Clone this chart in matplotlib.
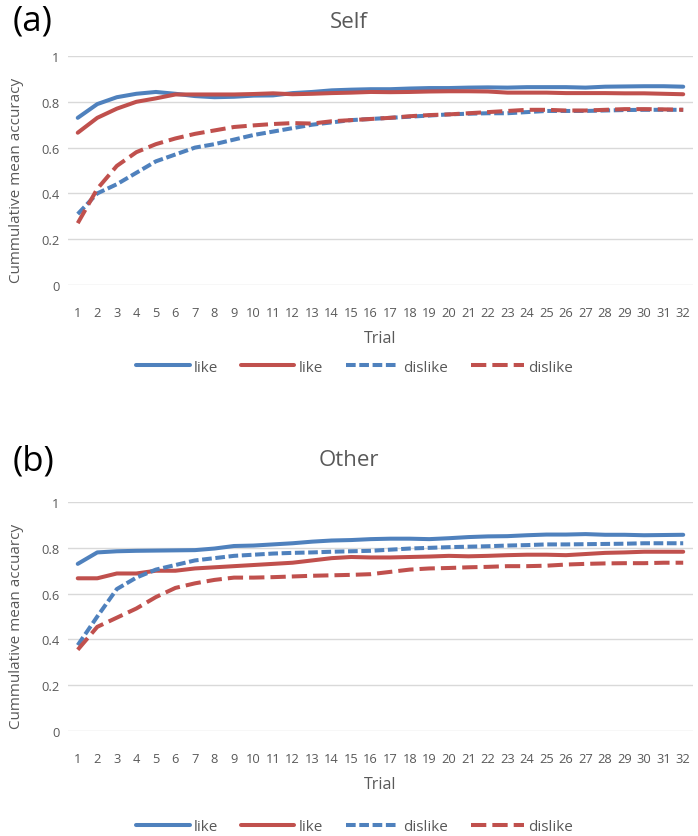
import matplotlib.pyplot as plt
import numpy as np

trials = list(range(1, 33))

# panel (a) Self
self_like_blue = [0.73, 0.79, 0.82, 0.835, 0.843, 0.835, 0.825, 0.82, 0.822, 0.827, 0.828, 0.838,
                  0.843, 0.85, 0.853, 0.855, 0.855, 0.858, 0.86, 0.86, 0.862, 0.863, 0.862, 0.864,
                  0.864, 0.864, 0.862, 0.866, 0.867, 0.868, 0.868, 0.866]
self_like_red = [0.665, 0.73, 0.77, 0.80, 0.815, 0.832, 0.832, 0.832, 0.832, 0.834, 0.837, 0.833,
                 0.835, 0.838, 0.84, 0.843, 0.842, 0.843, 0.845, 0.846, 0.846, 0.845, 0.84, 0.84,
                 0.84, 0.838, 0.838, 0.838, 0.837, 0.837, 0.835, 0.833]
self_dislike_blue = [0.31, 0.40, 0.44, 0.49, 0.54, 0.57, 0.60, 0.615, 0.635, 0.655, 0.67, 0.685,
                     0.70, 0.71, 0.72, 0.725, 0.73, 0.735, 0.74, 0.745, 0.748, 0.75, 0.75, 0.755,
                     0.76, 0.76, 0.76, 0.762, 0.764, 0.765, 0.765, 0.765]
self_dislike_red = [0.27, 0.42, 0.52, 0.58, 0.615, 0.64, 0.66, 0.675, 0.69, 0.697, 0.703, 0.707,
                    0.705, 0.715, 0.72, 0.725, 0.73, 0.737, 0.742, 0.745, 0.75, 0.755, 0.76, 0.765,
                    0.765, 0.762, 0.762, 0.765, 0.768, 0.768, 0.767, 0.765]

# panel (b) Other
other_like_blue = [0.73, 0.78, 0.785, 0.787, 0.788, 0.789, 0.79, 0.797, 0.808, 0.81, 0.815, 0.82,
                   0.827, 0.832, 0.834, 0.838, 0.84, 0.84, 0.838, 0.842, 0.847, 0.85, 0.851, 0.855,
                   0.858, 0.858, 0.86, 0.857, 0.857, 0.855, 0.856, 0.857]
other_like_red = [0.667, 0.667, 0.688, 0.688, 0.70, 0.70, 0.71, 0.715, 0.72, 0.725, 0.73, 0.735,
                  0.745, 0.755, 0.76, 0.758, 0.758, 0.76, 0.762, 0.765, 0.763, 0.765, 0.768, 0.77,
                  0.77, 0.768, 0.773, 0.778, 0.78, 0.783, 0.783, 0.783]
other_dislike_blue = [0.375, 0.50, 0.62, 0.67, 0.705, 0.725, 0.745, 0.755, 0.765, 0.77, 0.775, 0.778,
                      0.78, 0.783, 0.785, 0.787, 0.792, 0.797, 0.80, 0.803, 0.805, 0.807, 0.81, 0.812,
                      0.815, 0.815, 0.816, 0.817, 0.818, 0.82, 0.82, 0.82]
other_dislike_red = [0.355, 0.455, 0.495, 0.535, 0.585, 0.625, 0.645, 0.66, 0.67, 0.67, 0.672, 0.675,
                     0.678, 0.68, 0.682, 0.685, 0.695, 0.705, 0.71, 0.712, 0.715, 0.717, 0.72, 0.72,
                     0.722, 0.727, 0.73, 0.732, 0.733, 0.733, 0.735, 0.735]

blue = '#4f81bd'
red = '#c0504d'
grey = '#595959'
plt.rcParams['font.family'] = ['Open Sans', 'DejaVu Sans']

fig = plt.figure(figsize=(6.98, 8.37), dpi=100)


def panel(rect, series, title, letter, ylab, title_y, legend_y):
    ax = fig.add_axes(rect)
    styles = [dict(color=blue, ls='-'), dict(color=red, ls='-'),
              dict(color=blue, ls=(0, (2.4, 0.9))), dict(color=red, ls=(0, (3.8, 1.5)))]
    names = ['like', 'like', 'dislike', 'dislike']
    for s, st, nm in zip(series, styles, names):
        ax.plot(trials, s, lw=2.9, label=nm, solid_capstyle='round', **st)
    ax.set_xlim(0.5, 32.5)
    ax.set_ylim(0, 1)
    ax.set_yticks([0, 0.2, 0.4, 0.6, 0.8, 1])
    ax.set_yticklabels(['0', '0.2', '0.4', '0.6', '0.8', '1'])
    ax.set_xticks(trials)
    ax.grid(axis='y', color='#d9d9d9', lw=1)
    ax.set_axisbelow(True)
    for sp in ax.spines.values():
        sp.set_visible(False)
    ax.tick_params(length=0, labelsize=9.3, labelcolor=grey)
    ax.tick_params(axis='x', pad=15)
    ax.tick_params(axis='y', pad=6)
    ax.set_xlabel('Trial', fontsize=11.5, color=grey, labelpad=8)
    ax.set_ylabel(ylab, fontsize=11, color=grey)
    ax.yaxis.set_label_coords(-0.071, 0.46)
    # title centred on the figure like the Excel chart
    fig.text(0.5, title_y, title, fontsize=16, color=grey, ha='center', va='center')
    fig.text(0.018, title_y, letter, fontsize=25, color='black', va='center')
    fig.legend(*ax.get_legend_handles_labels(), loc='center', bbox_to_anchor=(0.508, legend_y),
               ncol=4, frameon=False, fontsize=11, labelcolor=grey, handlelength=3.5,
               columnspacing=1.5, handletextpad=0.25)
    return ax


panel([0.0974, 0.6583, 0.8954, 0.2736],
      [self_like_blue, self_like_red, self_dislike_blue, self_dislike_red],
      'Self', '(a)', 'Cummulative mean accuracy', 1 - 22 / 837, 0.560)
panel([0.0974, 0.1254, 0.8954, 0.2736],
      [other_like_blue, other_like_red, other_dislike_blue, other_dislike_red],
      'Other', '(b)', 'Cummulative mean accuarcy', 1 - 461 / 837, 0.011)

fig.savefig('out.png', dpi=100)
